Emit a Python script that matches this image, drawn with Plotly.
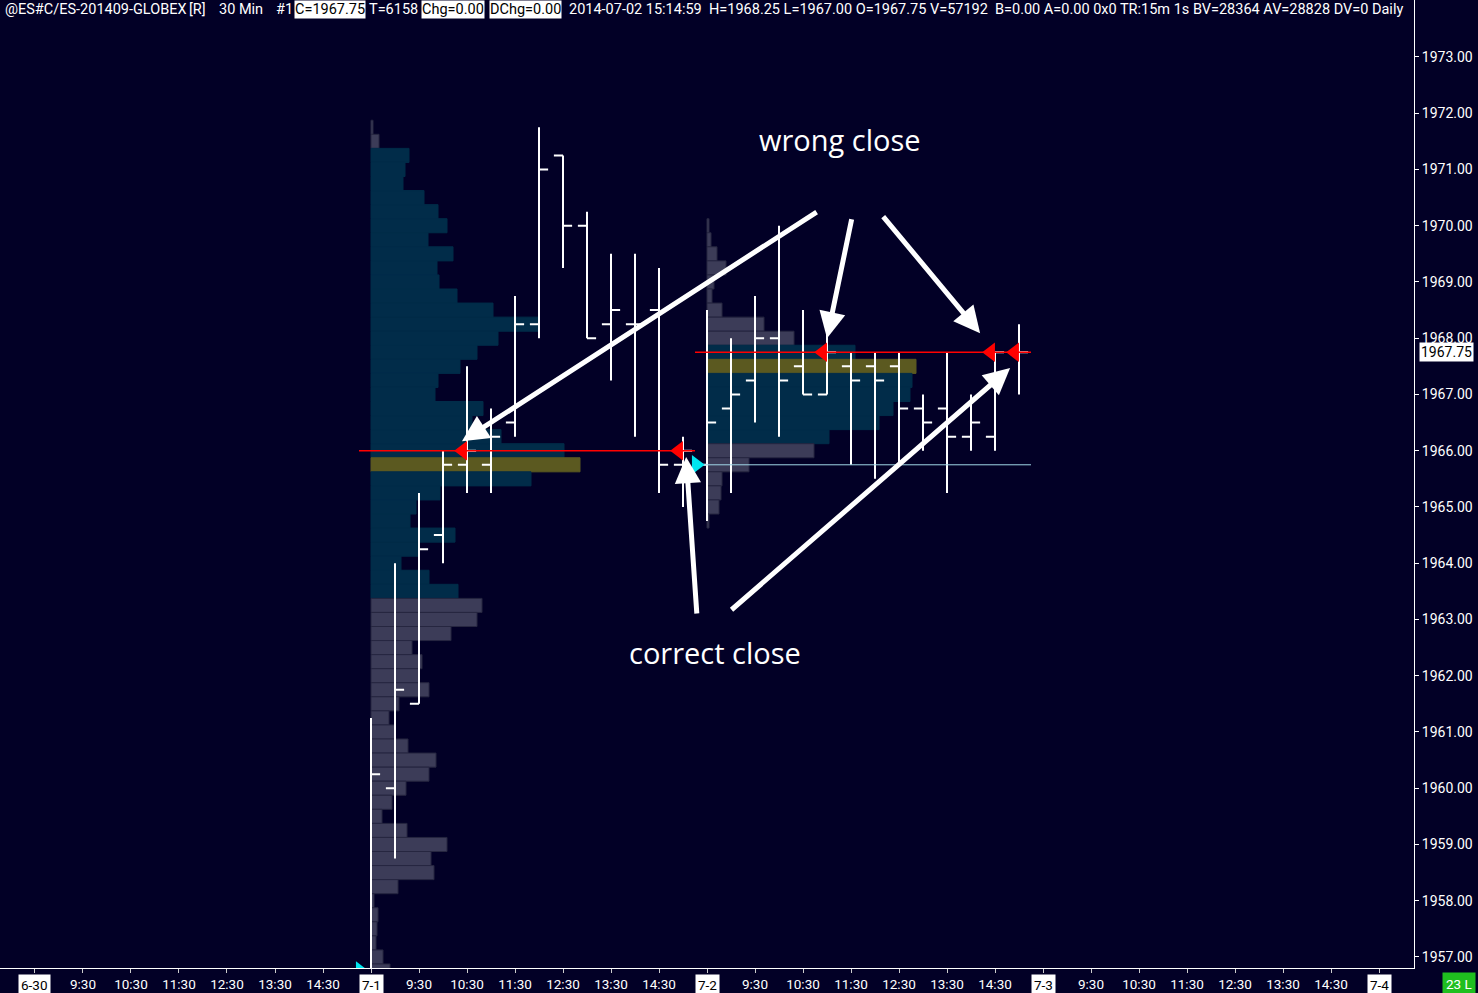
import plotly.graph_objects as go

# ---------------- data ----------------
# x positions are 30-minute bar slots; each session = 14 slots (8:30 .. 15:00)
day_labels = ["6-30", "7-1", "7-2", "7-3", "7-4"]
day_start = [0, 14, 28, 42, 56]
time_labels = ["9:30", "10:30", "11:30", "12:30", "13:30", "14:30"]
time_offsets = [2, 4, 6, 8, 10, 12]

# session 7-1 (slots 14..27)
s1_x = [14, 15, 16, 17, 18, 19, 20, 21, 22, 23, 24, 25, 26, 27]
s1_open = [1956.5, 1960.0, 1961.5, 1964.5, 1965.75, 1965.75, 1966.5, 1968.25, 1971.25, 1970.0, 1968.25, 1968.25, 1968.5, 1965.75]
s1_high = [1961.25, 1964.0, 1965.25, 1966.0, 1967.5, 1966.75, 1968.75, 1971.75, 1971.25, 1970.25, 1969.5, 1969.5, 1969.25, 1966.25]
s1_low = [1956.0, 1958.75, 1961.5, 1964.0, 1965.25, 1965.25, 1966.25, 1968.0, 1969.25, 1968.0, 1967.25, 1966.25, 1965.25, 1965.0]
s1_close = [1960.25, 1961.75, 1964.25, 1965.75, 1966.0, 1966.25, 1968.25, 1971.0, 1970.0, 1968.0, 1968.5, 1968.25, 1965.75, 1966.0]

# session 7-2 (slots 28..41)
s2_x = [28, 29, 30, 31, 32, 33, 34, 35, 36, 37, 38, 39, 40, 41]
s2_open = [1965.75, 1966.75, 1967.25, 1968.0, 1967.5, 1967.0, 1967.5, 1967.5, 1967.5, 1966.75, 1966.75, 1966.25, 1966.25, 1967.75]
s2_high = [1968.5, 1968.0, 1968.75, 1970.0, 1968.5, 1968.25, 1967.75, 1967.75, 1967.75, 1967.0, 1967.75, 1967.0, 1967.75, 1968.25]
s2_low = [1964.75, 1965.25, 1966.5, 1966.25, 1967.0, 1967.0, 1965.75, 1965.5, 1965.75, 1966.0, 1965.25, 1966.0, 1966.0, 1967.0]
s2_close = [1966.5, 1967.0, 1968.0, 1967.25, 1967.0, 1967.75, 1967.25, 1967.25, 1966.75, 1966.5, 1966.25, 1966.5, 1967.75, 1967.75]

# volume profile 7-1 (relative volume per 0.25 price level)
p1_prices = [1971.75, 1971.5, 1971.25, 1971.0, 1970.75, 1970.5, 1970.25, 1970.0,
             1969.75, 1969.5, 1969.25, 1969.0, 1968.75, 1968.5, 1968.25, 1968.0,
             1967.75, 1967.5, 1967.25, 1967.0, 1966.75, 1966.5, 1966.25, 1966.0,
             1965.75, 1965.5, 1965.25, 1965.0, 1964.75, 1964.5, 1964.25, 1964.0,
             1963.75, 1963.5, 1963.25, 1963.0, 1962.75, 1962.5, 1962.25, 1962.0,
             1961.75, 1961.5, 1961.25, 1961.0, 1960.75, 1960.5, 1960.25, 1960.0,
             1959.75, 1959.5, 1959.25, 1959.0, 1958.75, 1958.5, 1958.25, 1958.0,
             1957.75, 1957.5, 1957.25, 1957.0, 1956.75]
p1_volume = [2, 8, 38, 34, 32, 53, 67, 76,
             57, 82, 66, 68, 86, 122, 167, 127,
             106, 89, 67, 64, 112, 101, 130, 193,
             209, 160, 69, 45, 39, 84, 47, 30,
             58, 87, 111, 106, 80, 41, 51, 48,
             58, 28, 18, 24, 37, 65, 58, 35,
             21, 11, 36, 76, 60, 63, 27, 3,
             7, 6, 5, 12, 19]
p1_va_high, p1_va_low, p1_poc = 1971.25, 1963.5, 1965.75

# volume profile 7-2
p2_prices = [1970.0, 1969.75, 1969.5, 1969.25, 1969.0, 1968.75, 1968.5, 1968.25,
             1968.0, 1967.75, 1967.5, 1967.25, 1967.0, 1966.75, 1966.5, 1966.25,
             1966.0, 1965.75, 1965.5, 1965.25, 1965.0, 1964.75]
p2_volume = [2, 4, 10, 19, 7, 5, 15, 57,
             87, 148, 209, 205, 203, 186, 172, 122,
             107, 42, 15, 14, 12, 2]
p2_va_high, p2_va_low, p2_poc = 1967.75, 1966.25, 1967.5

# close levels
close_lines = [(14, 27, 1966.0), (28, 41, 1967.75)]      # red: session close line
settle_line = (28, 41, 1965.75)                            # cyan settlement line
red_marks_x = [18, 27, 33, 40, 41]
red_marks_y = [1966.0, 1966.0, 1967.75, 1967.75, 1967.75]
cyan_marks_x = [28, 14]
cyan_marks_y = [1965.75, 1956.75]

y_ticks = [1957, 1958, 1959, 1960, 1961, 1962, 1963, 1964, 1965,
           1966, 1967, 1968, 1969, 1970, 1971, 1972, 1973]
last_price = 1967.75

# ---------------- styling ----------------
BG = "#020026"
TEAL = "#012c49"
OLIVE = "#5b5920"
GRAY = "#3c3c58"
GRAY_EDGE = "#262640"
VOL_PER_SLOT = 24.0
X_RANGE = [-1.458, 57.458]
Y_RANGE = [1956.804, 1974.013]
PLOT_W, PLOT_H = 1414, 968

fig = go.Figure()


def add_profile(start, prices, vols, va_hi, va_lo, poc):
    fills, edges = [], []
    for p in prices:
        if p == poc:
            fills.append(OLIVE); edges.append(OLIVE)
        elif va_lo <= p <= va_hi:
            fills.append(TEAL); edges.append(TEAL)
        else:
            fills.append(GRAY); edges.append(GRAY_EDGE)
    fig.add_trace(go.Bar(
        y=prices, x=[v / VOL_PER_SLOT for v in vols], base=start,
        orientation="h", width=0.25,
        marker=dict(color=fills, line=dict(color=edges, width=1)),
        hoverinfo="skip", showlegend=False))


add_profile(day_start[1], p1_prices, p1_volume, p1_va_high, p1_va_low, p1_poc)
add_profile(day_start[2], p2_prices, p2_volume, p2_va_high, p2_va_low, p2_poc)

# close / settlement lines
for a, b, lvl in close_lines:
    fig.add_trace(go.Scatter(x=[a - 0.5, b + 0.5], y=[lvl, lvl], mode="lines",
                             line=dict(color="#ff0000", width=1.5),
                             hoverinfo="skip", showlegend=False))
fig.add_trace(go.Scatter(x=[settle_line[0] - 0.45, settle_line[1] + 0.5],
                         y=[settle_line[2]] * 2, mode="lines",
                         line=dict(color="#9fd6e6", width=1),
                         hoverinfo="skip", showlegend=False))

# OHLC bars
fig.add_trace(go.Ohlc(
    x=s1_x + s2_x, open=s1_open + s2_open, high=s1_high + s2_high,
    low=s1_low + s2_low, close=s1_close + s2_close,
    increasing=dict(line=dict(color="white", width=2)),
    decreasing=dict(line=dict(color="white", width=2)),
    tickwidth=0.38, hoverinfo="skip", showlegend=False))

# markers
fig.add_trace(go.Scatter(x=[v - 0.18 for v in red_marks_x], y=red_marks_y, mode="markers",
                         marker=dict(symbol="triangle-left", size=17, color="#ff0000"),
                         hoverinfo="skip", showlegend=False))
fig.add_trace(go.Scatter(x=[v - 0.45 for v in cyan_marks_x], y=cyan_marks_y, mode="markers",
                         marker=dict(symbol="triangle-right", size=17, color="#00e5f0"),
                         hoverinfo="skip", showlegend=False))

# ---------------- axes ----------------
tickvals, ticktext = [], []
for d, s in zip(day_labels, day_start):
    tickvals.append(s); ticktext.append("")
    if s < 56:
        for t, o in zip(time_labels, time_offsets):
            tickvals.append(s + o); ticktext.append(t)

fig.update_xaxes(range=X_RANGE, tickmode="array", tickvals=tickvals, ticktext=ticktext,
                 ticks="outside", ticklen=4, tickcolor="#cccccc",
                 showline=True, linecolor="white", linewidth=1,
                 showgrid=False, zeroline=False, rangeslider_visible=False,
                 tickfont=dict(family="Roboto", size=13.5, color="white"))
fig.update_yaxes(range=Y_RANGE, side="right", tickmode="array", tickvals=y_ticks,
                 tickformat=".2f", ticks="outside", ticklen=4, tickcolor="white",
                 showline=True, linecolor="white", linewidth=1,
                 showgrid=False, zeroline=False,
                 tickfont=dict(family="Roboto", size=14, color="white"))

ann = []
# date labels
for d, s in zip(day_labels, day_start):
    ann.append(dict(x=s, y=0, xref="x", yref="paper", yanchor="top", yshift=-6,
                    text=d, showarrow=False, bgcolor="white", borderpad=2,
                    font=dict(family="Roboto", size=13.5, color="black")))
# last price label
ann.append(dict(x=1419 / PLOT_W, y=last_price, xref="paper", yref="y", xanchor="left",
                text=f"{last_price:.2f}", showarrow=False, bgcolor="white", borderpad=1,
                font=dict(family="Roboto", size=14, color="black")))
# bars count badge
ann.append(dict(x=1459 / PLOT_W, y=0, xref="paper", yref="paper", xanchor="center",
                yanchor="top", yshift=-4,
                text="23 L", showarrow=False, bgcolor="#1fbf1f", borderpad=3,
                font=dict(family="Roboto", size=13.5, color="white")))

# header
header = [
    (4, "@ES#C/ES-201409-GLOBEX", False),
    (188, "[R]", False),
    (218, "30 Min", False),
    (275, "#1", False),
    (294, "C=1967.75", True),
    (368, "T=6158", False),
    (421, "Chg=0.00", True),
    (489, "DChg=0.00", True),
    (568, "2014-07-02 15:14:59", False),
    (708, "H=1968.25 L=1967.00 O=1967.75 V=57192", False),
    (994, "B=0.00 A=0.00 0x0 TR:15m 1s BV=28364 AV=28828 DV=0 Daily", False),
]
for px, txt, boxed in header:
    ann.append(dict(x=px / PLOT_W, y=1 - 9 / PLOT_H, xref="paper", yref="paper",
                    xanchor="left", yanchor="middle", text=txt, showarrow=False,
                    bgcolor="white" if boxed else None, borderpad=0,
                    font=dict(family="Roboto", size=14.5, color="black" if boxed else "white")))

# callout text
ann.append(dict(x=33.54, y=1971.54, xref="x", yref="y", text="wrong close", showarrow=False,
                font=dict(family="Open Sans", size=29, color="white")))
ann.append(dict(x=28.33, y=1962.42, xref="x", yref="y", text="correct close", showarrow=False,
                font=dict(family="Open Sans", size=29, color="white")))

# callout arrows: (tail_x, tail_y, head_x, head_y) in slot/price units
arrows = [
    (32.63, 1970.26, 17.79, 1966.17),
    (34.04, 1970.14, 33.00, 1968.00),
    (35.29, 1970.19, 39.38, 1968.09),
    (27.58, 1963.08, 27.13, 1965.89),
    (28.96, 1963.15, 40.63, 1967.47),
]
for tx, ty, hx, hy in arrows:
    ann.append(dict(x=hx, y=hy, ax=tx, ay=ty, xref="x", yref="y", axref="x", ayref="y",
                    text="", showarrow=True, arrowhead=2, arrowsize=1.05, arrowwidth=5,
                    arrowcolor="white", standoff=0))

fig.update_layout(width=1478, height=993, autosize=False,
                  margin=dict(l=0, r=64, t=0, b=25, pad=0),
                  paper_bgcolor=BG, plot_bgcolor=BG, barmode="overlay",
                  showlegend=False, annotations=ann,
                  font=dict(family="Roboto", color="white"))

fig.write_html("out.html", config={"displayModeBar": False},
               post_script="document.body.style.margin='0';document.body.style.overflow='hidden';")
